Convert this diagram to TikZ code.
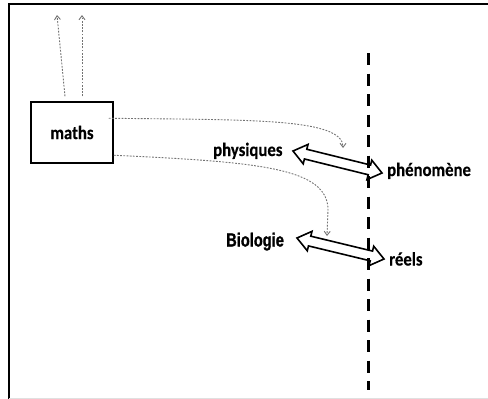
\documentclass[tikz,border=0pt]{standalone}
\usepackage{fontspec}
\newfontfamily\labfont[FakeStretch=0.88, FakeBold=0.3]{Carlito Bold}
\newfontfamily\biofont[FakeStretch=0.77, FakeBold=1.2]{Liberation Sans Bold}
\usetikzlibrary{arrows.meta,calc}

% hollow two-headed arrow between two points
\newcommand{\fatarrow}[2]{%
  \coordinate (fa) at ($(#1)!13pt!(#2)$);
  \coordinate (fb) at ($(#2)!13pt!(#1)$);
  \draw[fat] (#1) -- ($(fa)!10pt!90:(#2)$) -- ($(fa)!5pt!90:(#2)$)
    -- ($(fb)!5pt!-90:(#1)$) -- ($(fb)!10pt!-90:(#1)$) -- (#2)
    -- ($(fb)!10pt!90:(#1)$) -- ($(fb)!5pt!90:(#1)$)
    -- ($(fa)!5pt!-90:(#2)$) -- ($(fa)!10pt!-90:(#2)$) -- cycle;
}

\begin{document}
\begin{tikzpicture}[
  x=1pt, y=-1pt,
  lab/.style={font=\labfont\fontsize{19}{21}\selectfont, inner sep=0pt, anchor=base west},
  box/.style={draw, line width=1.5pt, minimum width=82pt, minimum height=61pt, inner sep=0pt},
  link/.style={black!55, line width=0.9pt, dash pattern=on 1.8pt off 1.4pt,
    -{Straight Barb[length=4pt,width=6pt]}},
  fat/.style={draw=black, fill=white, line width=1.6pt, line join=miter},
  frontier/.style={line width=2.4pt, dash pattern=on 12pt off 8.5pt}
]
\useasboundingbox (0,0) rectangle (488,399);

% Frame
\draw[line width=2pt] (8.5,399) -- (8.5,4) -- (488,4);
\draw[black!12, line width=1pt] (9,398) -- (488,398);

% Nodes
\node[box, font=\labfont\fontsize{19}{21}\selectfont] (maths) at (72,132.5) {maths};
\node[lab] (phys) at (213,156) {physiques};
\node[lab] (phen) at (387,176) {phénomène};
\node[lab, font=\biofont\fontsize{19}{21}\selectfont] (bio) at (226,246.5) {Biologie};
\node[lab] (reel) at (389,265.5) {réels};

% Arrow ends
\coordinate (up1) at (57,15);
\coordinate (up2) at (82,15);
\coordinate (t1) at (343,148);
\coordinate (t2) at (327,236);
\coordinate (p1) at (293,151);
\coordinate (p2) at ([shift={(-5,-3)}]phen.base west);
\coordinate (b1) at (297,238);
\coordinate (b2) at ([shift={(-5,-6.5)}]reel.base west);

% Dotted links
\draw[link] ([shift={(-7,-5)}]maths.north) -- (up1);
\draw[link] ([shift={(10,-5)}]maths.north) -- (up2);
\draw[link] ([shift={(-5,17)}]maths.north east) .. controls (250,120) and (343,118) .. (t1);
\draw[link] ([shift={(0,54)}]maths.north east) .. controls (260,162) and (328,168) .. (328,210) -- (t2);

% Double arrows
\fatarrow{p1}{p2}
\fatarrow{b1}{b2}

% Frontier
\draw[frontier] (368.5,53) -- (368.5,390);

\end{tikzpicture}
\end{document}
